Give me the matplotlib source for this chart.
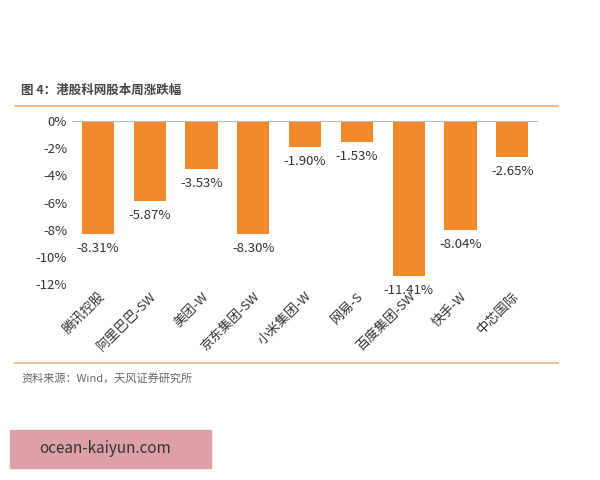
import matplotlib
matplotlib.use("Agg")
import matplotlib.pyplot as plt
from matplotlib.ticker import FuncFormatter

plt.rcParams['font.family'] = ['Noto Sans CJK SC', 'DejaVu Sans']

names = ["腾讯控股", "阿里巴巴-SW", "美团-W", "京东集团-SW", "小米集团-W",
         "网易-S", "百度集团-SW", "快手-W", "中芯国际"]
changes = [-8.31, -5.87, -3.53, -8.30, -1.90, -1.53, -11.41, -8.04, -2.65]

bar_color = "#F28A2B"
line_color = "#F0B27A"

fig = plt.figure(figsize=(6, 4.8), dpi=100)
fig.patch.set_facecolor("white")
ax = fig.add_axes([0.12, 0.408, 0.777, 0.34])

x = range(len(names))
ax.bar(x, changes, width=0.62, color=bar_color)
for i, v in zip(x, changes):
    ax.text(i, v - 0.6, f"{v:.2f}%", ha="center", va="top", fontsize=9.5, color="#333333")

ax.set_ylim(-12, 0)
ax.set_xlim(-0.5, len(names) - 0.5)
ax.set_yticks(range(-12, 1, 2))
ax.yaxis.set_major_formatter(FuncFormatter(lambda v, p: f"{v:.0f}%"))
ax.set_xticks(list(x))
ax.set_xticklabels(names, rotation=45, ha="right", rotation_mode="anchor", fontsize=9.5)
ax.tick_params(axis="y", length=0, labelsize=9.5, colors="#333333")
ax.tick_params(axis="x", length=0, pad=4, colors="#333333")
for s in ax.spines.values():
    s.set_visible(False)
ax.axhline(0, color="#BBBBBB", lw=0.8)

fig.text(0.035, 0.805, "图 4：港股科网股本周涨跌幅", fontsize=9, fontweight="bold", color="#444444")
fig.add_artist(plt.Line2D([0.025, 0.93], [0.78, 0.78], color=line_color, lw=1.2))
fig.add_artist(plt.Line2D([0.025, 0.93], [0.243, 0.243], color=line_color, lw=1.2))
fig.text(0.035, 0.205, "资料来源：Wind，天风证券研究所", fontsize=8, color="#666666")

fig.add_artist(plt.Rectangle((0.017, 0.025), 0.335, 0.08, color="#DDA0A6", transform=fig.transFigure))
fig.text(0.065, 0.065, "ocean-kaiyun.com", fontsize=11, color="#333333", va="center")

fig.savefig("out.png", dpi=100)
